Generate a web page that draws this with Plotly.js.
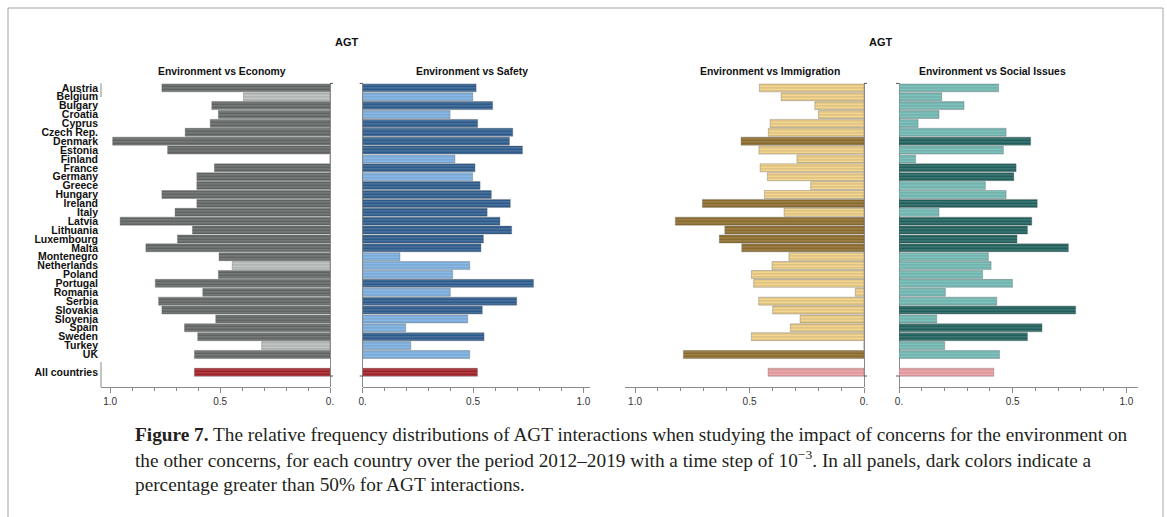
<!DOCTYPE html>
<html>
<head>
<meta charset="utf-8">
<script src="https://cdn.plot.ly/plotly-3.0.1.min.js"></script>
<style>html,body{margin:0;padding:0;background:#fff;}#chart{width:1167px;height:517px;}</style>
</head>
<body>
<div id="chart"></div>
<script>
// ---- data ----
const countries = ["Austria","Belgium","Bulgary","Croatia","Cyprus","Czech Rep.","Denmark","Estonia","Finland","France","Germany","Greece","Hungary","Ireland","Italy","Latvia","Lithuania","Luxembourg","Malta","Montenegro","Netherlands","Poland","Portugal","Romania","Serbia","Slovakia","Slovenia","Spain","Sweden","Turkey","UK"];
const allLabel = "All countries";

const economy     = [0.765,0.394,0.538,0.508,0.545,0.659,0.989,0.739,0,0.526,0.606,0.606,0.765,0.606,0.705,0.955,0.626,0.694,0.838,0.505,0.445,0.508,0.795,0.579,0.780,0.765,0.520,0.662,0.602,0.311,0.617];
const safety      = [0.514,0.499,0.589,0.396,0.521,0.680,0.665,0.724,0.418,0.509,0.498,0.532,0.583,0.669,0.564,0.622,0.675,0.547,0.536,0.169,0.485,0.408,0.774,0.397,0.698,0.542,0.476,0.195,0.550,0.218,0.485];
const immigration = [0.457,0.362,0.215,0.199,0.410,0.418,0.537,0.459,0.293,0.454,0.422,0.233,0.435,0.706,0.349,0.824,0.608,0.632,0.534,0.328,0.402,0.492,0.482,0.038,0.460,0.399,0.279,0.322,0.492,0,0.789];
const social      = [0.438,0.188,0.286,0.176,0.084,0.471,0.579,0.459,0.073,0.515,0.505,0.380,0.471,0.608,0.176,0.584,0.565,0.519,0.745,0.393,0.405,0.368,0.499,0.204,0.430,0.777,0.166,0.629,0.565,0.201,0.442];
const allValues = {economy:0.617, safety:0.520, immigration:0.419, social:0.417};

const panelTitles = ["Environment vs Economy","Environment vs Safety","Environment vs Immigration","Environment vs Social Issues"];
const xTickVals = [0, 0.5, 1];
const xTickText = ["0.", "0.5", "1.0"];

// ---- layout helpers ----
const W = 1167, H = 517;
const px = v => v / W;
const py = v => 1 - v / H;
const yTop = 83.4, yBot = 387;
const yDomain = [py(yBot), py(yTop)];
const rowPos = countries.map((c, i) => i);
const allPos = countries.length + 1;
const yVals = rowPos.concat([allPos]);
const yText = countries.concat([allLabel]);

const palette = {
  economy:     {dark:"#5f6463", light:"#c2c7c4"},
  safety:      {dark:"#2c5a8a", light:"#86b9e9"},
  immigration: {dark:"#8a6a2b", light:"#f5d68f"},
  social:      {dark:"#1f5f5b", light:"#7cc2bd"}
};
const allCol = {dark:"#9e1f24", light:"#f1a7ab"};

function makeTrace(key, vals, xa) {
  const x = vals.concat([allValues[key]]);
  const colors = vals.map(v => v > 0.5 ? palette[key].dark : palette[key].light)
    .concat([allValues[key] > 0.5 ? allCol.dark : allCol.light]);
  return {
    type: "bar", orientation: "h", x: x, y: yVals,
    xaxis: xa, yaxis: "y", width: 0.9,
    marker: {color: colors,
      line: {color: "rgba(90,90,90,0.55)", width: 0.6},
      pattern: {shape: "-", fillmode: "overlay", fgcolor: "#ffffff", fgopacity: 0.22, size: 3, solidity: 0.34}},
    hoverinfo: "x+y", showlegend: false
  };
}

const data = [
  makeTrace("economy", economy, "x"),
  makeTrace("safety", safety, "x2"),
  makeTrace("immigration", immigration, "x3"),
  makeTrace("social", social, "x4")
];

const panels = [
  {dom:[101,330], range:[1.042,0], zeroX:330, outward:1},
  {dom:[362.7,590], range:[0,1.030], zeroX:362.7, outward:-1},
  {dom:[625,864], range:[1.044,0], zeroX:864, outward:1},
  {dom:[899,1138], range:[0,1.051], zeroX:899, outward:-1}
];
const tickFont = {family:"Liberation Sans, Arial, sans-serif", size:10, color:"#333"};

function xaxisDef(p) {
  return {
    domain:[px(p.dom[0]), px(p.dom[1])], range:p.range, anchor:"y",
    showgrid:false, zeroline:true, zerolinecolor:"#8a8a8a", zerolinewidth:1,
    showline:true, linecolor:"#8a8a8a", linewidth:1,
    tickmode:"array", tickvals:xTickVals, ticktext:xTickText,
    ticks:"outside", ticklen:5, tickcolor:"#8a8a8a", tickwidth:1,
    minor:{tickmode:"linear", tick0:0, dtick:0.1, ticks:"outside", ticklen:3, tickcolor:"#8a8a8a", showgrid:false},
    tickfont:tickFont, fixedrange:true
  };
}

const layout = {
  width:W, height:H, margin:{l:0,r:0,t:0,b:0},
  paper_bgcolor:"#fff", plot_bgcolor:"rgba(0,0,0,0)",
  bargap:0.1, showlegend:false,
  xaxis: xaxisDef(panels[0]),
  xaxis2: Object.assign(xaxisDef(panels[1]), {anchor:"free", position:py(yBot)}),
  xaxis3: Object.assign(xaxisDef(panels[2]), {anchor:"free", position:py(yBot)}),
  xaxis4: Object.assign(xaxisDef(panels[3]), {anchor:"free", position:py(yBot)}),
  yaxis: {
    domain:yDomain, range:[33.66,-0.5], anchor:"x",
    tickmode:"array", tickvals:yVals, ticktext:yText,
    ticks:"", showline:false, showgrid:false, zeroline:false,
    ticklabelstandoff:2,
    tickfont:{family:"Liberation Sans, Arial, sans-serif", size:10.5, color:"#111", weight:"bold"},
    fixedrange:true
  },
  annotations:[],
  shapes:[]
};

// titles
const titleFont = {family:"Liberation Sans, Arial, sans-serif", size:11, color:"#111", weight:"bold"};
const subFont = {family:"Liberation Sans, Arial, sans-serif", size:10.4, color:"#111", weight:"bold"};
[[347,"AGT"],[881,"AGT"]].forEach(([x,t]) => layout.annotations.push({
  text:t, x:px(x), y:py(42), xref:"paper", yref:"paper", xanchor:"center", yanchor:"middle",
  showarrow:false, font:titleFont}));
[222,471.5,770,992.5].forEach((x,i) => layout.annotations.push({
  text:panelTitles[i], x:px(x), y:py(71), xref:"paper", yref:"paper", xanchor:"center", yanchor:"middle",
  showarrow:false, font:subFont}));

// caption
const capFont = {family:"Liberation Serif, Times New Roman, serif", size:19.3, color:"#231f20"};
const captionLines = [
  "<b>Figure 7.</b> The relative frequency distributions of AGT interactions when studying the impact of concerns for the environment on",
  "the other concerns, for each country over the period 2012–2019 with a time step of 10<sup>−3</sup>. In all panels, dark colors indicate a",
  "percentage greater than 50% for AGT interactions."
];
[434,459,484].forEach((y,i) => layout.annotations.push({
  text:captionLines[i], x:px(133), y:py(y), xref:"paper", yref:"paper", xanchor:"left", yanchor:"middle",
  showarrow:false, font:capFont, align:"left"}));

// outer frame
layout.shapes.push({type:"rect", xref:"paper", yref:"paper", x0:px(8), x1:px(1163), y0:py(525), y1:py(8),
  line:{color:"#a5a5a5", width:1}, fillcolor:"rgba(0,0,0,0)", layer:"below"});

// small ticks at zero baselines (top row and "All countries" row)
const tickRowsPx = [83.4, 376];
panels.forEach(p => {
  tickRowsPx.forEach(yy => layout.shapes.push({type:"line", xref:"paper", yref:"paper",
    x0:px(p.zeroX), x1:px(p.zeroX + 3*p.outward), y0:py(yy), y1:py(yy),
    line:{color:"#555", width:1}}));
});
// short frame segments at left edge of first panel
[[83.4,97],[362,387]].forEach(([a,b]) => layout.shapes.push({type:"line", xref:"paper", yref:"paper",
  x0:px(101), x1:px(101), y0:py(a), y1:py(b), line:{color:"#8a8a8a", width:1}}));

Plotly.newPlot("chart", data, layout, {staticPlot:true, displayModeBar:false});
</script>
</body>
</html>
